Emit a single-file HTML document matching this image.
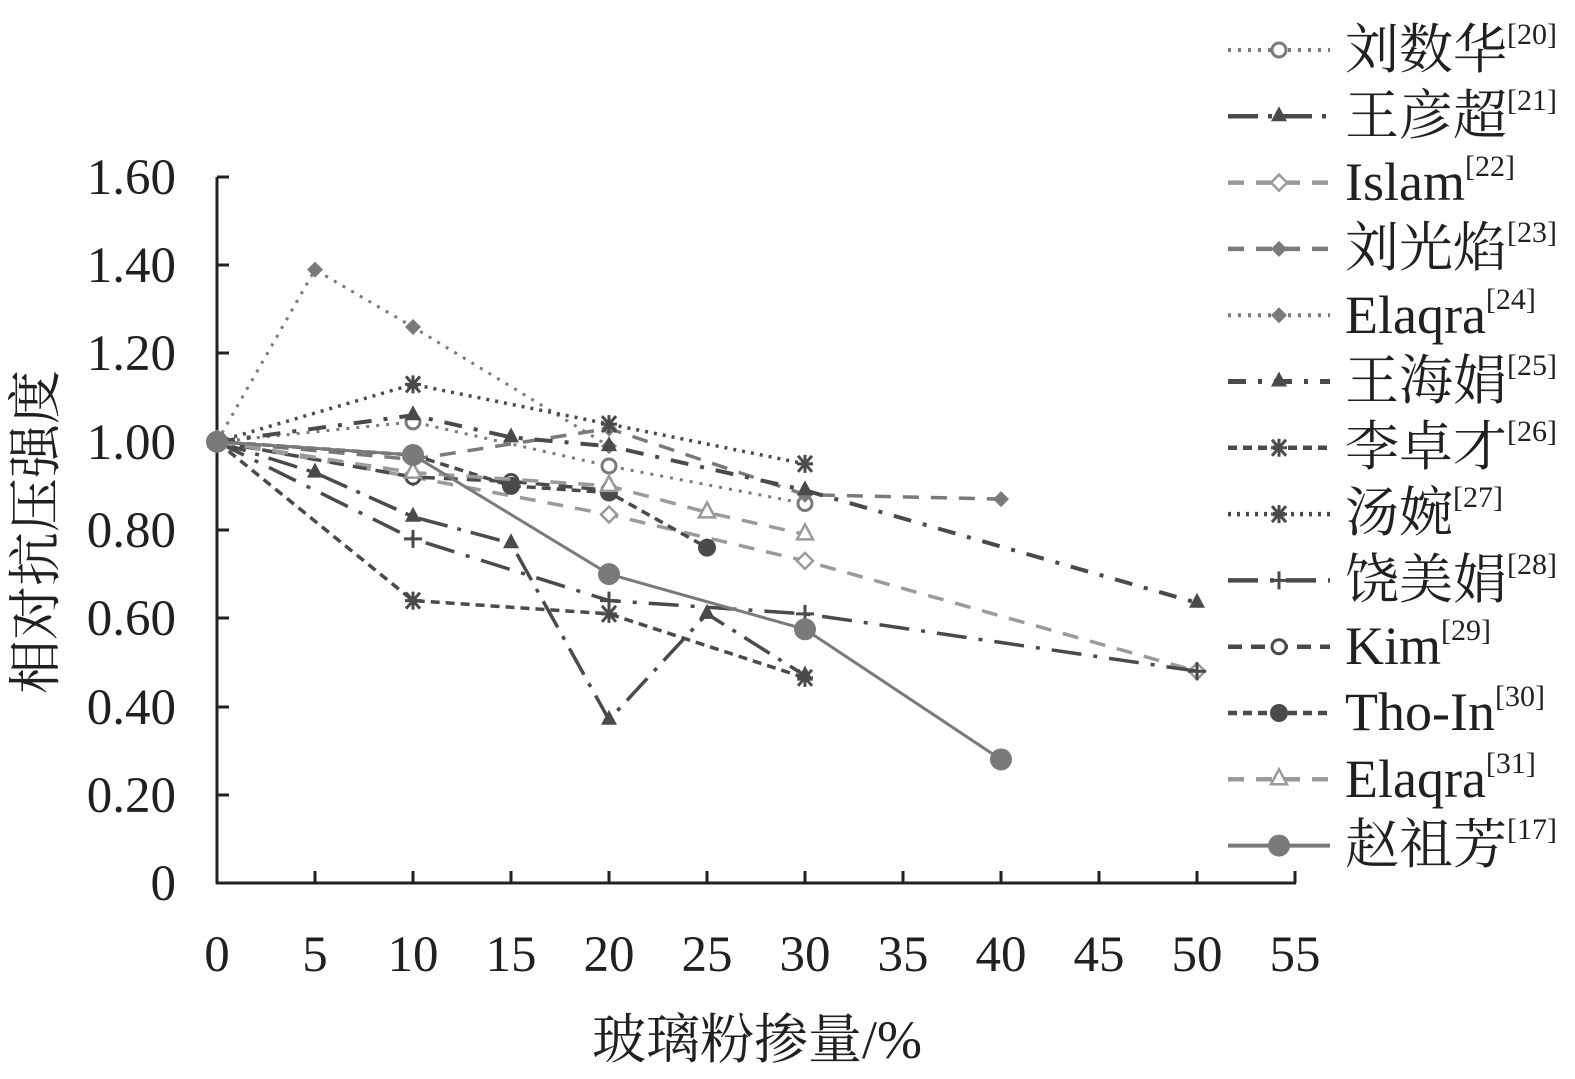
<!DOCTYPE html>
<html><head><meta charset="utf-8"><style>
html,body{margin:0;padding:0;background:#fff;}
svg{display:block;}
text{font-family:"Liberation Serif","Noto Serif CJK SC",serif;fill:#231f20;}
</style></head><body>
<svg id="s" width="1575" height="1079" viewBox="0 0 1575 1079" xmlns="http://www.w3.org/2000/svg">
<g stroke="#231f20" stroke-width="3" fill="none">
<line x1="217" y1="177" x2="217" y2="884"/>
<line x1="216" y1="883" x2="1296" y2="883"/>
<path d="M217 177h12M217 265h12M217 353h12M217 442h12M217 530h12M217 618h12M217 707h12M217 795h12"/>
<path d="M315 883v-12M413 883v-12M511 883v-12M609 883v-12M707 883v-12M805 883v-12M903 883v-12M1001 883v-12M1099 883v-12M1197 883v-12M1295 883v-12"/>
</g>
<g font-size="51" text-anchor="end">
<text x="176" y="194">1.60</text><text x="176" y="282">1.40</text><text x="176" y="370">1.20</text>
<text x="176" y="459">1.00</text><text x="176" y="547">0.80</text><text x="176" y="635">0.60</text>
<text x="176" y="724">0.40</text><text x="176" y="812">0.20</text><text x="176" y="900">0</text>
</g>
<g font-size="51" text-anchor="middle">
<text x="217" y="971">0</text><text x="315" y="971">5</text><text x="413" y="971">10</text><text x="511" y="971">15</text>
<text x="609" y="971">20</text><text x="707" y="971">25</text><text x="805" y="971">30</text><text x="903" y="971">35</text>
<text x="1001" y="971">40</text><text x="1099" y="971">45</text><text x="1197" y="971">50</text><text x="1295" y="971">55</text>
</g>
<text x="757" y="1058" font-size="54" text-anchor="middle">玻璃粉掺量/%</text>
<text transform="translate(54,532) rotate(-90)" font-size="54" text-anchor="middle">相对抗压强度</text>
<g id="series"></g>
<g id="legend"></g>
<g font-size="54">
<text x="1345" y="68">刘数华<tspan font-size="30" dy="-24">[20]</tspan></text>
<text x="1345" y="134"><tspan dy="0">王彦超</tspan><tspan font-size="30" dy="-24">[21]</tspan></text>
<text x="1345" y="200">Islam<tspan font-size="30" dy="-24">[22]</tspan></text>
<text x="1345" y="266">刘光焰<tspan font-size="30" dy="-24">[23]</tspan></text>
<text x="1345" y="333">Elaqra<tspan font-size="30" dy="-24">[24]</tspan></text>
<text x="1345" y="399">王海娟<tspan font-size="30" dy="-24">[25]</tspan></text>
<text x="1345" y="465">李卓才<tspan font-size="30" dy="-24">[26]</tspan></text>
<text x="1345" y="531">汤婉<tspan font-size="30" dy="-24">[27]</tspan></text>
<text x="1345" y="598">饶美娟<tspan font-size="30" dy="-24">[28]</tspan></text>
<text x="1345" y="664">Kim<tspan font-size="30" dy="-24">[29]</tspan></text>
<text x="1345" y="730">Tho-In<tspan font-size="30" dy="-24">[30]</tspan></text>
<text x="1345" y="797">Elaqra<tspan font-size="30" dy="-24">[31]</tspan></text>
<text x="1345" y="863">赵祖芳<tspan font-size="30" dy="-24">[17]</tspan></text>
</g>
</svg>
<script>
var X=function(x){return 217+19.6*x},Y=function(v){return 883-441.25*v};
var D='#4a4a4c',G='#7a7a7c',L='#9a9a9c';
var S=[
{c:G,d:'3 7',w:3,m:'oc',p:[[0,1],[10,1.045],[20,0.945],[30,0.86]]},
{c:D,d:'30 10 4 10',w:3.5,m:'ft',p:[[0,1],[5,0.93],[10,0.83],[15,0.77],[20,0.37],[25,0.61],[30,0.47]]},
{c:L,d:'16 12',w:3.5,m:'od',p:[[0,1],[10,0.92],[20,0.835],[30,0.73],[50,0.48]]},
{c:G,d:'16 12',w:3.5,m:'fd',p:[[0,1],[10,0.96],[20,1.03],[30,0.88],[40,0.87]]},
{c:G,d:'3 7',w:3,m:'fd',p:[[0,1],[5,1.39],[10,1.26],[20,0.99]]},
{c:D,d:'18 12 4 12',w:4,m:'ft',p:[[0,1],[10,1.06],[15,1.01],[20,0.99],[30,0.89],[50,0.635]]},
{c:D,d:'9 6',w:3.5,m:'st',p:[[0,1],[10,0.64],[20,0.61],[30,0.465]]},
{c:D,d:'3 6',w:3.5,m:'st',p:[[0,1],[10,1.13],[20,1.04],[30,0.95]]},
{c:D,d:'30 12 4 12',w:3.5,m:'pl',p:[[0,1],[10,0.78],[20,0.64],[30,0.61],[50,0.48]]},
{c:D,d:'14 9',w:3.5,m:'oc',p:[[0,1],[10,0.92],[15,0.91],[20,0.89]]},
{c:D,d:'9 6',w:3.5,m:'fc',p:[[0,1],[10,0.97],[15,0.9],[20,0.885],[25,0.76]]},
{c:L,d:'16 12',w:3.5,m:'ot',p:[[0,1],[10,0.93],[20,0.9],[25,0.84],[30,0.79]]},
{c:G,d:'',w:3,m:'bc',p:[[0,1],[10,0.97],[20,0.70],[30,0.575],[40,0.28]]}
];
function mk(t,x,y,c){
 switch(t){
 case 'oc':return '<circle cx="'+x+'" cy="'+y+'" r="7" fill="#fff" stroke="'+c+'" stroke-width="3"/>';
 case 'fc':return '<circle cx="'+x+'" cy="'+y+'" r="9" fill="'+c+'"/>';
 case 'bc':return '<circle cx="'+x+'" cy="'+y+'" r="11" fill="'+c+'"/>';
 case 'ft':return '<path d="M'+x+' '+(y-10)+'l8 15h-16z" fill="'+c+'"/>';
 case 'ot':return '<path d="M'+x+' '+(y-10)+'l8 15h-16z" fill="#fff" stroke="'+c+'" stroke-width="2.5"/>';
 case 'fd':return '<path d="M'+x+' '+(y-8)+'l8 8-8 8-8-8z" fill="'+c+'"/>';
 case 'od':return '<path d="M'+x+' '+(y-8)+'l8 8-8 8-8-8z" fill="#fff" stroke="'+c+'" stroke-width="2.5"/>';
 case 'st':return '<path d="M'+(x-7)+' '+(y-8)+'l14 16M'+(x+7)+' '+(y-8)+'l-14 16M'+(x-8)+' '+y+'h16M'+x+' '+(y-9)+'v18" stroke="'+c+'" stroke-width="3"/>';
 case 'pl':return '<path d="M'+(x-9)+' '+y+'h18M'+x+' '+(y-9)+'v18" stroke="'+c+'" stroke-width="3"/>';
 }
}
var h='',lg='';
S.forEach(function(s,i){
 var pts=s.p.map(function(q){return X(q[0])+','+Y(q[1])}).join(' ');
 h+='<polyline points="'+pts+'" fill="none" stroke="'+s.c+'" stroke-width="'+s.w+'" stroke-dasharray="'+s.d+'"/>';
 s.p.forEach(function(q){h+=mk(s.m,X(q[0]),Y(q[1]),s.c)});
 var ly=50+i*66.3;
 lg+='<line x1="1228" y1="'+ly+'" x2="1330" y2="'+ly+'" stroke="'+s.c+'" stroke-width="'+(s.w+1)+'" stroke-dasharray="'+s.d+'"/>'+mk(s.m,1279,ly,s.c);
});
document.getElementById('series').innerHTML=h;
document.getElementById('legend').innerHTML=lg;
</script>
</body></html>
